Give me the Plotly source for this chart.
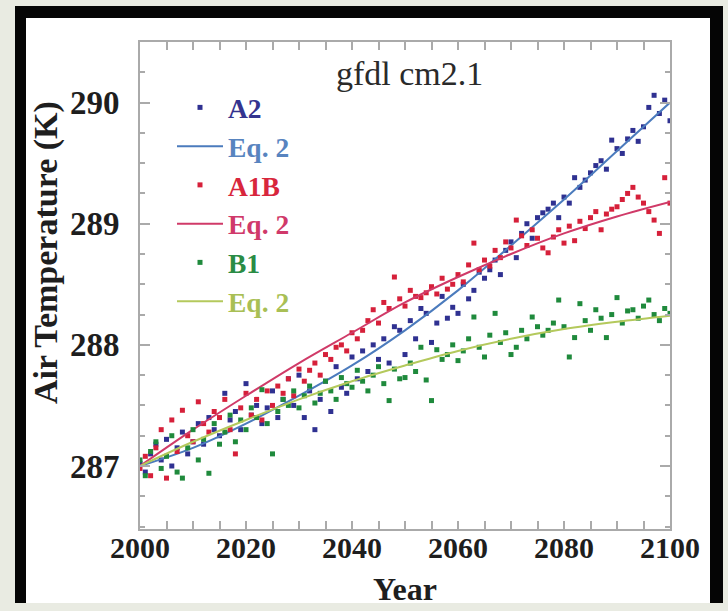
import plotly.graph_objects as go

years = list(range(2000, 2101))

a2_vals = [
    287.02, 286.95, 287.10, 287.18, 287.05, 287.22, 287.00, 287.15, 287.28, 287.10,
    287.20, 287.35, 287.18, 287.40, 287.30, 287.25, 287.60, 287.38, 287.45, 287.30,
    287.68, 287.42, 287.50, 287.35, 287.48, 287.62, 287.40, 287.55, 287.72, 287.50,
    287.75, 287.40, 287.62, 287.30, 287.55, 287.70, 287.45, 287.82, 287.65, 287.60,
    287.90, 287.72, 287.95, 287.78, 288.00, 287.88, 288.05, 287.85, 288.15, 288.12,
    287.92, 288.20, 288.05, 288.30, 288.26, 288.02, 288.18, 288.40, 288.22, 288.31,
    288.26, 288.50, 288.38, 288.45, 288.60, 288.55, 288.62, 288.70, 288.58, 288.78,
    288.85, 288.72, 288.92, 289.00, 288.88, 289.05, 289.09, 289.12, 289.17, 289.05,
    289.22, 289.17, 289.38, 289.30, 289.36, 289.42, 289.48, 289.52, 289.45, 289.69,
    289.62, 289.58, 289.70, 289.77, 289.68, 289.80, 289.96, 290.06, 289.91, 290.02,
    289.85,
]

a1b_vals = [
    286.98, 287.08, 286.92, 287.15, 287.30, 286.90, 287.38, 287.12, 287.46, 287.25,
    287.20, 287.53, 287.35, 287.28, 287.45, 287.40, 287.55, 287.30, 287.10, 287.48,
    287.60, 287.42, 287.55, 287.38, 287.62, 287.50, 287.66, 287.60, 287.72, 287.58,
    287.80, 287.70, 287.79, 287.85, 287.75, 287.92, 287.88, 287.98, 288.00, 287.95,
    288.10, 288.05, 288.12, 288.20, 288.29, 288.18, 288.35, 288.30, 288.56, 288.38,
    288.32, 288.45, 288.40, 288.39, 288.43, 288.48, 288.42, 288.55, 288.46, 288.50,
    288.58, 288.52, 288.66, 288.84, 288.62, 288.70, 288.65, 288.78, 288.72, 288.85,
    288.80, 289.03, 288.90, 288.82, 288.95, 288.88, 288.80, 288.76, 288.89, 288.95,
    288.84, 288.98, 288.86, 289.02, 288.96, 289.05, 289.10, 288.95, 289.08, 289.12,
    289.14, 289.20, 289.25, 289.30, 289.22, 289.17, 289.10, 289.03, 288.92, 289.38,
    289.17,
]

b1_vals = [
    287.05, 286.92, 287.12, 287.20, 286.98, 287.08, 287.25, 286.95, 286.90, 287.15,
    287.30, 287.05, 287.22, 286.94, 287.35, 287.18, 287.28, 287.42, 287.20, 287.38,
    287.30, 287.48, 287.40, 287.63, 287.35, 287.10, 287.45, 287.55, 287.50, 287.62,
    287.48, 287.58, 287.66, 287.52, 287.60, 287.70, 287.62, 287.55, 287.73, 287.68,
    287.65, 287.79, 287.70, 287.62, 287.75, 287.82, 287.68, 287.54, 287.80, 287.72,
    287.73, 287.85, 287.78, 287.98, 287.71, 287.54, 287.96, 287.88, 287.92, 288.00,
    287.87, 287.95, 288.05, 288.23, 287.98, 287.90, 288.08, 288.26, 288.02, 288.10,
    287.92, 287.98, 288.12, 288.05, 288.23, 288.15, 288.08, 288.12, 288.18, 288.37,
    288.15, 287.90, 288.06, 288.34, 288.20, 288.12, 288.29, 288.22, 288.06, 288.25,
    288.39, 288.18, 288.28, 288.29, 288.22, 288.32, 288.37, 288.25, 288.20, 288.30,
    288.26,
]

fit_years = [2000, 2010, 2020, 2030, 2040, 2050, 2060, 2070, 2080, 2090, 2100]
a2_fit = [287.00, 287.15, 287.35, 287.58, 287.83, 288.12, 288.45, 288.82, 289.20, 289.60, 290.00]
a1b_fit = [287.00, 287.30, 287.58, 287.85, 288.10, 288.35, 288.56, 288.75, 288.92, 289.06, 289.18]
b1_fit = [287.00, 287.20, 287.38, 287.55, 287.70, 287.83, 287.95, 288.05, 288.13, 288.19, 288.24]

x_ticks = [2000, 2020, 2040, 2060, 2080, 2100]
y_ticks = [287, 288, 289, 290]

C_A2 = "#2f3191"
C_A2_FIT = "#4b7bbd"
C_A1B = "#d6203a"
C_A1B_FIT = "#d03a68"
C_B1 = "#1f8a3c"
C_B1_FIT = "#b4c95c"
C_A2_TXT = "#34348f"
C_A2FIT_TXT = "#5884bf"
C_A1B_TXT = "#d8263c"
C_A1BFIT_TXT = "#d0396a"
C_B1_TXT = "#2a8c45"
C_B1FIT_TXT = "#a9bf55"

SERIF = "Liberation Serif, Times New Roman, serif"


def lname(text, color):
    return f"<span style='color:{color}'><b>{text}</b></span>"


fig = go.Figure()
fig.add_trace(go.Scatter(x=years, y=a2_vals, mode="markers", name=lname("A2", C_A2_TXT),
                         marker=dict(symbol="square", size=5, color=C_A2)))
fig.add_trace(go.Scatter(x=fit_years, y=a2_fit, mode="lines", name=lname("Eq. 2", C_A2FIT_TXT),
                         line=dict(color=C_A2_FIT, width=2, shape="spline")))
fig.add_trace(go.Scatter(x=years, y=a1b_vals, mode="markers", name=lname("A1B", C_A1B_TXT),
                         marker=dict(symbol="square", size=5, color=C_A1B)))
fig.add_trace(go.Scatter(x=fit_years, y=a1b_fit, mode="lines", name=lname("Eq. 2", C_A1BFIT_TXT),
                         line=dict(color=C_A1B_FIT, width=2, shape="spline")))
fig.add_trace(go.Scatter(x=years, y=b1_vals, mode="markers", name=lname("B1", C_B1_TXT),
                         marker=dict(symbol="square", size=5, color=C_B1)))
fig.add_trace(go.Scatter(x=fit_years, y=b1_fit, mode="lines", name=lname("Eq. 2", C_B1FIT_TXT),
                         line=dict(color=C_B1_FIT, width=2, shape="spline")))

L, R, T, B = 140, 58, 42, 82
W, H = 728, 611
PW, PH = W - L - R, H - T - B


def px(x):
    return (x - L) / PW


def py(y):
    return (H - B - y) / PH


shapes = [
    dict(type="rect", xref="paper", yref="paper", x0=px(15), x1=px(723), y0=py(603), y1=py(6),
         fillcolor="#050505", line=dict(width=0), layer="below"),
    dict(type="rect", xref="paper", yref="paper", x0=px(26), x1=px(710), y0=py(603), y1=py(18),
         fillcolor="#ffffff", line=dict(width=0), layer="below"),
]

axis_common = dict(
    showline=True, linecolor="#aaaaaa", linewidth=2, mirror="ticks",
    ticks="inside", tickcolor="#aaaaaa", tickwidth=2,
    showgrid=False, zeroline=False,
)

fig.update_layout(
    width=W, height=H,
    margin=dict(l=L, r=R, t=T, b=B),
    paper_bgcolor="#e9ebe2",
    plot_bgcolor="rgba(0,0,0,0)",
    showlegend=True,
    legend=dict(
        x=px(172), y=py(83), xanchor="left", yanchor="top",
        bgcolor="rgba(0,0,0,0)", borderwidth=0,
        font=dict(family=SERIF, size=27.5, color="#333333"),
        itemwidth=46, tracegroupgap=0,
    ),
    xaxis=dict(
        range=[2000, 2100], tickvals=x_ticks, ticklen=8, ticklabelstandoff=-9,
        tickfont=dict(family=SERIF, size=30, color="#1e1e1e", weight="bold"),
        minor=dict(dtick=5, ticks="inside", ticklen=8, tickcolor="#aaaaaa", tickwidth=2),
        **axis_common,
    ),
    yaxis=dict(
        range=[286.48, 290.5], tickvals=y_ticks, ticklen=10, ticklabelstandoff=12,
        tickfont=dict(family=SERIF, size=33, color="#1e1e1e", weight="bold"),
        minor=dict(dtick=0.25, ticks="inside", ticklen=5, tickcolor="#aaaaaa", tickwidth=2),
        **axis_common,
    ),
    shapes=shapes,
    annotations=[
        dict(text="gfdl cm2.1", xref="paper", yref="paper", x=px(409), y=py(73),
             xanchor="center", yanchor="middle", showarrow=False,
             font=dict(family=SERIF, size=34, color="#2a2a2a")),
        dict(text="<b>Year</b>", xref="paper", yref="paper", x=px(405), y=py(589),
             xanchor="center", yanchor="middle", showarrow=False,
             font=dict(family=SERIF, size=32, color="#1e1e1e")),
        dict(text="<b>Air Temperature (K)</b>", xref="paper", yref="paper", x=px(46), y=py(253),
             xanchor="center", yanchor="middle", showarrow=False, textangle=-90,
             font=dict(family=SERIF, size=34, color="#1e1e1e")),
    ],
)

fig.write_html(
    "out.html",
    config={"displayModeBar": False},
    post_script="document.body.style.margin='0';document.body.style.background='#e9ebe2';",
)
